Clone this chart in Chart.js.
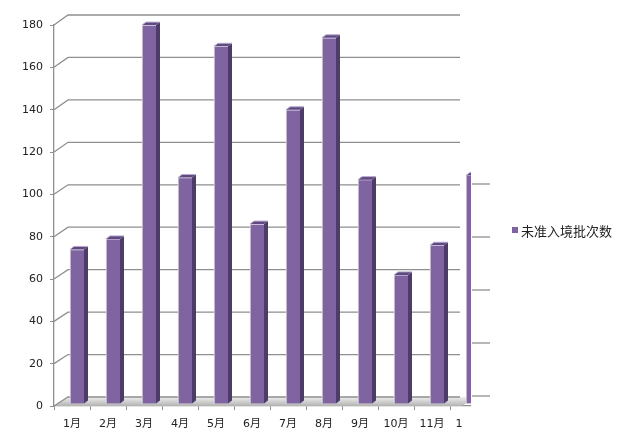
<!DOCTYPE html>
<html><head><meta charset="utf-8">
<script src="https://cdn.jsdelivr.net/npm/chart.js@4/dist/chart.umd.min.js"></script>
<style>html,body{margin:0;padding:0;background:#fff;}#wrap{width:619px;height:435px;}</style>
</head><body><div id="wrap"><canvas id="c" width="619" height="435"></canvas></div>
<script>
const categories = ['1月','2月','3月','4月','5月','6月','7月','8月','9月','10月','11月','12月'];
const seriesName = '未准入境批次数';
const values = [73, 78, 179, 107, 169, 85, 139, 173, 106, 61, 75, 108];
const yTicks = [0, 20, 40, 60, 80, 100, 120, 140, 160, 180];
const extraTickY = [184, 237, 290, 343, 396];

const FRONT = '#8064A2', SIDE = '#4E3C68', TOP = '#5E4A80', EDGE = '#E6DEF0', GRID = '#8f8f8f';
const FONT = 'DejaVu Sans, "Noto Sans CJK SC", sans-serif';

const threeD = {
  id: 'threeD',
  beforeDatasetsDraw(chart) {
    const ctx = chart.ctx, ys = chart.scales.y, a = chart.chartArea;
    const L = a.left, backL = L + 14, backR = 460;
    const fy = ys.getPixelForValue(0);
    ctx.save();
    const g = ctx.createLinearGradient(0, fy - 9, 0, fy);
    g.addColorStop(0, '#eeeeee'); g.addColorStop(1, '#b3b3b3');
    ctx.fillStyle = g;
    ctx.beginPath();
    ctx.moveTo(L, fy); ctx.lineTo(backL, fy - 9); ctx.lineTo(backR + 16, fy - 9); ctx.lineTo(backR + 2, fy); ctx.closePath();
    ctx.fill();
    ctx.strokeStyle = GRID; ctx.lineWidth = 1.3;
    yTicks.forEach(v => {
      const py = ys.getPixelForValue(v);
      const off = 9 + (ys.bottom - py) / (ys.bottom - ys.top);
      ctx.beginPath();
      ctx.moveTo(L, py); ctx.lineTo(backL, py - off); ctx.lineTo(backR, py - off);
      ctx.stroke();
    });
    ctx.restore();
    ctx.save();
    ctx.beginPath(); ctx.rect(0, 0, 471, 435); ctx.clip();
    ctx.translate(5, -2);
  },
  afterDatasetsDraw(chart) {
    const ctx = chart.ctx;
    const meta = chart.getDatasetMeta(0);
    const dx = 4, dy = 3;
    meta.data.forEach(bar => {
      const p = bar.getProps(['x', 'y', 'base', 'width'], true);
      const l = p.x - p.width / 2, r = p.x + p.width / 2;
      ctx.fillStyle = SIDE;
      ctx.beginPath();
      ctx.moveTo(r, p.y); ctx.lineTo(r + dx, p.y - dy); ctx.lineTo(r + dx, p.base - dy); ctx.lineTo(r, p.base); ctx.closePath();
      ctx.fill();
      ctx.fillStyle = TOP;
      ctx.beginPath();
      ctx.moveTo(l, p.y); ctx.lineTo(l + dx, p.y - dy); ctx.lineTo(r + dx, p.y - dy); ctx.lineTo(r, p.y); ctx.closePath();
      ctx.fill();
      ctx.strokeStyle = '#B9A8D0'; ctx.lineWidth = 1;
      ctx.beginPath(); ctx.moveTo(l, p.y); ctx.lineTo(l + dx, p.y - dy); ctx.lineTo(r + dx, p.y - dy); ctx.stroke();
    });
    ctx.restore();
  },
  afterDraw(chart) {
    const ctx = chart.ctx;
    ctx.save();
    ctx.fillStyle = '#ffffff';
    ctx.fillRect(471, 0, 40, 435);
    ctx.fillRect(462, 407, 12, 28);
    ctx.strokeStyle = GRID; ctx.lineWidth = 1.3;
    extraTickY.forEach(y => { ctx.beginPath(); ctx.moveTo(472, y); ctx.lineTo(490, y); ctx.stroke(); });
    ctx.fillStyle = FRONT;
    ctx.fillRect(512, 227, 6, 6);
    ctx.fillStyle = '#222';
    ctx.font = '13px "Noto Sans CJK SC", sans-serif';
    ctx.textBaseline = 'middle'; ctx.textAlign = 'left';
    ctx.fillText(chart.data.datasets[0].label, 521, 231);
    ctx.restore();
  }
};

new Chart(document.getElementById('c'), {
  type: 'bar',
  data: {
    labels: categories,
    datasets: [{
      label: seriesName,
      data: values,
      backgroundColor: FRONT,
      borderColor: EDGE,
      borderWidth: { left: 1, top: 1, right: 0, bottom: 0 },
      borderSkipped: false,
      barThickness: 14
    }]
  },
  options: {
    responsive: false,
    animation: false,
    devicePixelRatio: 1,
    layout: { padding: { top: 25, right: 133, left: 0, bottom: 0 } },
    plugins: { legend: { display: false }, tooltip: { enabled: false } },
    scales: {
      x: {
        offset: true,
        grid: { display: true, drawOnChartArea: false, drawTicks: true, tickLength: 4, color: GRID, offset: true },
        border: { display: true, color: GRID, width: 1.3 },
        ticks: { color: '#222', font: { family: FONT, size: 11 }, padding: 8, maxRotation: 0, autoSkip: false },
        afterFit(s) { s.height = 29; }
      },
      y: {
        min: 0, max: 180,
        grid: { display: true, drawOnChartArea: false, drawTicks: true, tickLength: 4, color: GRID },
        border: { display: true, color: GRID, width: 1.3 },
        ticks: { stepSize: 20, color: '#222', font: { family: FONT, size: 11 }, padding: 7 },
        afterFit(s) { s.width = 54; }
      }
    }
  },
  plugins: [threeD]
});
</script></body></html>
